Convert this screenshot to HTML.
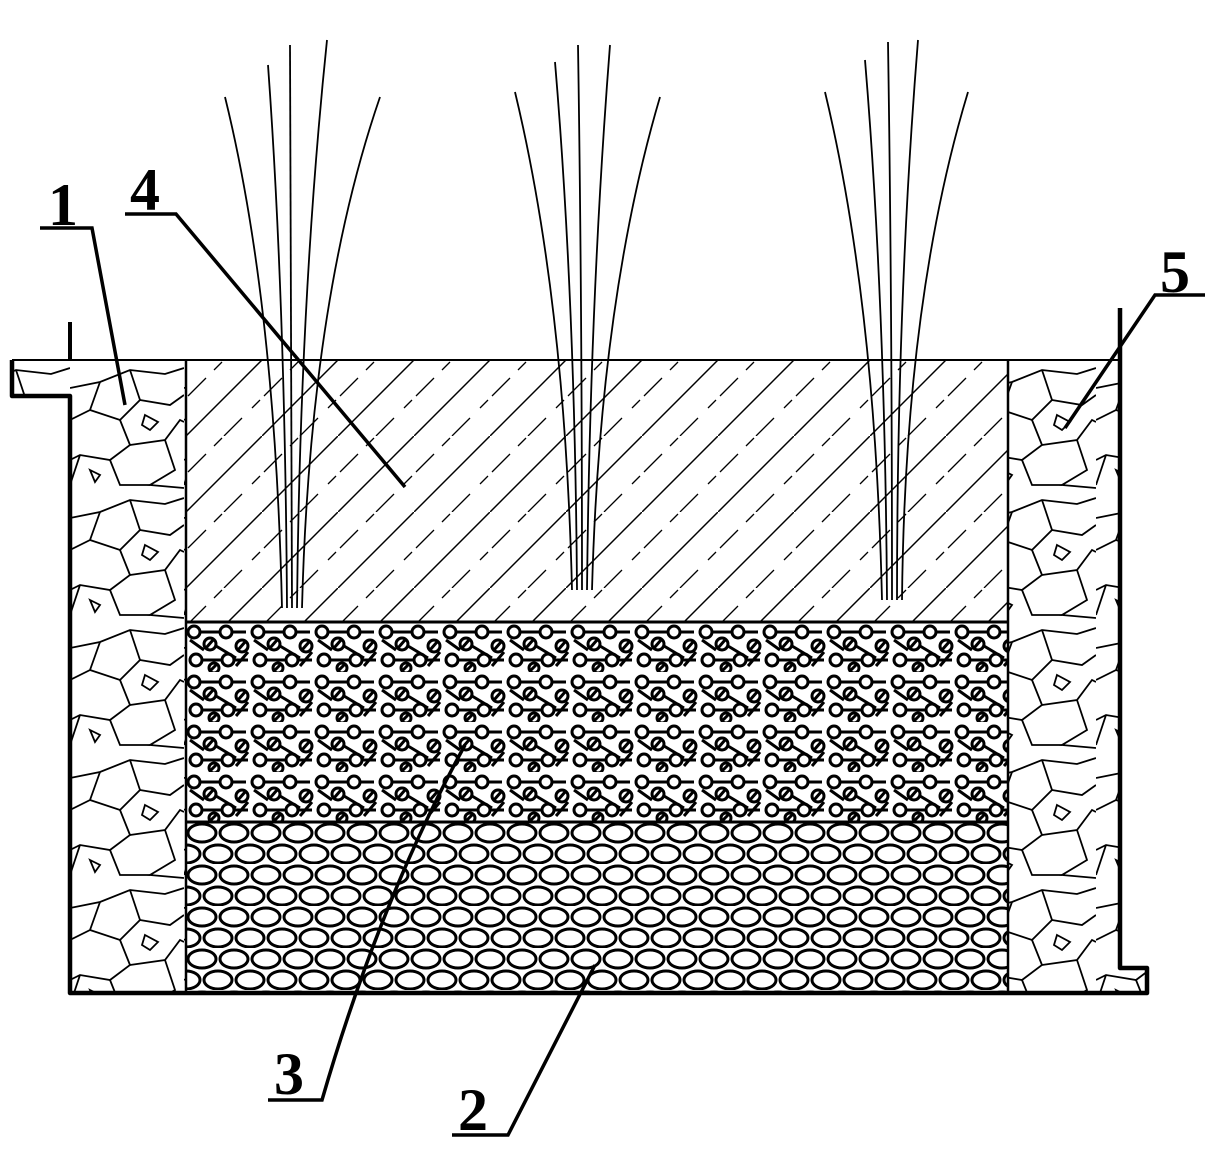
<!DOCTYPE html>
<html><head><meta charset="utf-8"><style>html,body{margin:0;padding:0;background:#fff}svg{display:block}</style></head>
<body>
<svg width="1227" height="1149" viewBox="0 0 1227 1149" xmlns="http://www.w3.org/2000/svg">
<defs>
<pattern id="soil" width="76" height="76" patternUnits="userSpaceOnUse" x="186" y="360">
<path d="M0 76 L76 0" stroke="#000" stroke-width="1.5"/>
<path d="M2 36 L20 18 M38 76 L56 58" stroke="#000" stroke-width="1.3"/>
<path d="M28 10 L36 2 M66 48 L74 40" stroke="#000" stroke-width="1.3"/>
</pattern>
<pattern id="gravel" width="64" height="50" patternUnits="userSpaceOnUse" x="186" y="622">
<g stroke="#000" stroke-width="3" fill="none">
<circle cx="8" cy="10" r="6"/><circle cx="40" cy="10" r="6"/><path d="M14 10 H34 M46 10 H60"/>
<circle cx="24" cy="22" r="6"/><path d="M20 26 L27 18 M4 18 L18 28 M30 24 L50 36"/>
<circle cx="56" cy="24" r="6"/><path d="M52 28 L59 20"/>
<circle cx="10" cy="38" r="6"/><circle cx="42" cy="38" r="6"/><path d="M16 38 H36 M48 38 H62"/>
<circle cx="28" cy="46" r="5"/><path d="M24 49 L31 42 M50 44 L62 30"/>
</g>
</pattern>
<pattern id="stones" width="64" height="42" patternUnits="userSpaceOnUse" x="186" y="822">
<g stroke="#000" stroke-width="3" fill="none">
<ellipse cx="16" cy="11" rx="14" ry="9"/><ellipse cx="48" cy="11" rx="14" ry="9"/>
<ellipse cx="0" cy="32" rx="14" ry="9"/><ellipse cx="32" cy="32" rx="14" ry="9"/><ellipse cx="64" cy="32" rx="14" ry="9"/>
</g>
</pattern>
<pattern id="rock" width="114" height="130" patternUnits="userSpaceOnUse" x="70" y="360">
<g stroke="#000" stroke-width="1.8" fill="none">
<path d="M0 28 L30 22 L60 10 L95 14 L114 8"/>
<path d="M30 22 L20 50 L0 60"/>
<path d="M60 10 L70 40 L50 60 L20 50"/>
<path d="M70 40 L100 45 L114 35"/>
<path d="M50 60 L60 85 L40 100 L10 95 L0 100"/>
<path d="M60 85 L95 80 L110 60 L114 62"/>
<path d="M95 80 L105 110 L80 125 L114 128"/>
<path d="M40 100 L50 125 L80 125"/>
<path d="M10 95 L0 125"/>
<path d="M75 55 L88 62 L80 70 L72 65 Z"/>
<path d="M20 110 L30 115 L25 122 Z"/>
</g>
</pattern>
</defs>

<rect x="70" y="360" width="116" height="633" fill="url(#rock)"/>
<rect x="12" y="360" width="58" height="36" fill="url(#rock)"/>
<rect x="1008" y="360" width="112" height="633" fill="url(#rock)"/>
<rect x="1120" y="968" width="27" height="25" fill="url(#rock)"/>
<rect x="186" y="360" width="822" height="262" fill="url(#soil)"/>
<rect x="186" y="622" width="822" height="200" fill="url(#gravel)"/>
<rect x="186" y="822" width="822" height="171" fill="url(#stones)"/>

<g stroke="#000" fill="none">
<line x1="186" y1="360" x2="186" y2="993" stroke-width="2.5"/>
<line x1="1008" y1="360" x2="1008" y2="993" stroke-width="2.5"/>
<line x1="186" y1="622" x2="1008" y2="622" stroke-width="3"/>
<line x1="186" y1="822" x2="1008" y2="822" stroke-width="3"/>
<line x1="12" y1="360" x2="1120" y2="360" stroke-width="2"/>
<path d="M70 322 V360" stroke-width="4"/>
<path d="M12 360 V396 H70 V993 H1147 V968 H1120 V308" stroke-width="4.5" stroke-linejoin="round"/>
</g>

<g stroke="#000" stroke-width="1.8" fill="none">
<path d="M225 97 Q275 300 282 608"/><path d="M268 65 Q285 300 287 608"/><path d="M290 45 Q292 300 292 608"/><path d="M327 40 Q300 300 297 608"/><path d="M380 97 Q310 300 302 608"/>
<path d="M515 92 Q565 300 572 590"/><path d="M555 62 Q575 300 577 590"/><path d="M578 45 Q582 300 582 590"/><path d="M610 45 Q590 300 587 590"/><path d="M660 97 Q600 300 592 590"/>
<path d="M825 92 Q875 300 882 600"/><path d="M865 60 Q885 300 887 600"/><path d="M888 42 Q892 300 892 600"/><path d="M918 40 Q897 300 897 600"/><path d="M968 92 Q905 300 902 600"/>
</g>

<g font-family="Liberation Serif, serif" font-size="60" font-weight="bold" fill="#000">
<text x="48" y="225">1</text>
<text x="130" y="210">4</text>
<text x="1160" y="292">5</text>
<text x="274" y="1094">3</text>
<text x="458" y="1130">2</text>
</g>
<g stroke="#000" stroke-width="3.5" fill="none">
<path d="M40 228 H92 L125 405"/>
<path d="M125 214 H176 L405 487"/>
<path d="M1205 295 H1155 L1065 428"/>
<path d="M268 1100 H322 Q380 900 465 745"/>
<path d="M452 1135 H508 L595 965"/>
</g>
</svg>
</body></html>
